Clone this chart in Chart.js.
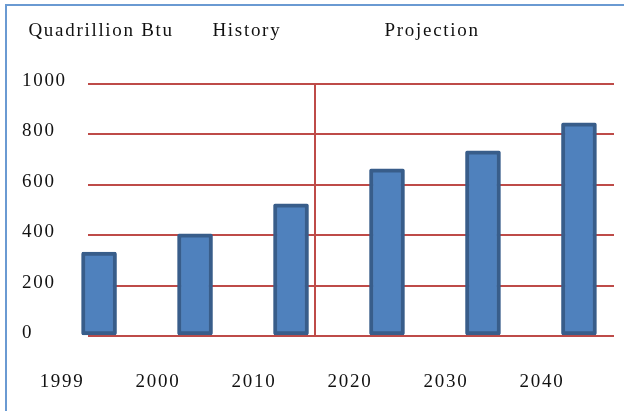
<!DOCTYPE html>
<html>
<head>
<meta charset="utf-8">
<script src="https://cdn.jsdelivr.net/npm/chart.js@4"></script>
<style>
  html, body { margin: 0; padding: 0; background: #fff; }
  #wrap { position: relative; width: 624px; height: 411px; overflow: hidden; }
  #frame { position: absolute; left: 5px; top: 4px; width: 700px; height: 500px;
           border-left: 2px solid #6a9ad2; border-top: 2px solid #6a9ad2; pointer-events: none; }
  canvas { position: absolute; left: 0; top: 0; }
</style>
</head>
<body>
<div id="wrap">
  <canvas id="energyChart" width="624" height="411"></canvas>
  <div id="frame"></div>
</div>
<script>
const years = ['1999', '2000', '2010', '2020', '2030', '2040'];
const consumption = [333, 405, 524, 663, 734, 845];
const yTicks = [0, 200, 400, 600, 800, 1000];
const dividerAt = 2.25; // history | projection split, in bar-index units

const red = '#be4b48';
const serif = { family: "'Liberation Serif', 'Times New Roman', serif", size: 19, weight: 'normal' };

// stretch the text a bit, the original looks wide
const spacing = {
  id: 'spacing',
  beforeUpdate(chart) { chart.ctx.letterSpacing = '1.7px'; },
  beforeDraw(chart) { chart.ctx.letterSpacing = '1.7px'; }
};

const ctx = document.getElementById('energyChart').getContext('2d');
const energyChart = new Chart(ctx, {
  type: 'bar',
  data: {
    datasets: [{
      data: consumption.map((v, i) => ({ x: i, y: v })),
      backgroundColor: '#4f81bd',
      borderColor: '#385d8a',
      borderWidth: 4,
      borderRadius: 2,
      borderSkipped: false,
      barThickness: 35,
      clip: false
    }]
  },
  plugins: [spacing],
  options: {
    responsive: false,
    animation: false,
    devicePixelRatio: 1,
    layout: { padding: { left: 22, right: 10, top: 20, bottom: 17 } },
    plugins: {
      legend: { display: false },
      tooltip: { enabled: false },
      title: {
        display: true,
        align: 'start',
        text: ' Quadrillion Btu      History                Projection',
        color: '#111',
        font: serif,
        padding: { top: 0, bottom: 41 }
      }
    },
    scales: {
      x: {
        type: 'linear',
        offset: false,
        min: -0.115,
        max: 5.365,
        afterBuildTicks(scale) {
          scale.ticks = years.map((y, i) => ({ value: i })).concat([{ value: dividerAt }]);
        },
        afterFit(scale) { scale.height = 58; },
        ticks: {
          autoSkip: false,
          maxRotation: 0,
          padding: 35,
          labelOffset: -37,
          color: '#111',
          font: serif,
          callback: (v) => Number.isInteger(v) ? years[v] : ''
        },
        grid: {
          offset: false,
          drawTicks: false,
          lineWidth: 2,
          color: (c) => c.tick && c.tick.value === dividerAt ? red : 'rgba(0,0,0,0)'
        },
        border: { display: false }
      },
      y: {
        min: 0,
        max: 1000,
        afterBuildTicks(scale) {
          scale.ticks = yTicks.map(v => ({ value: v }));
        },
        afterFit(scale) { scale.width = 66; },
        ticks: {
          crossAlign: 'far',
          labelOffset: -3,
          color: '#111',
          font: serif,
          callback: (v) => String(v)
        },
        grid: {
          drawTicks: false,
          lineWidth: 2,
          color: red
        },
        border: { display: false }
      }
    }
  }
});
</script>
</body>
</html>
